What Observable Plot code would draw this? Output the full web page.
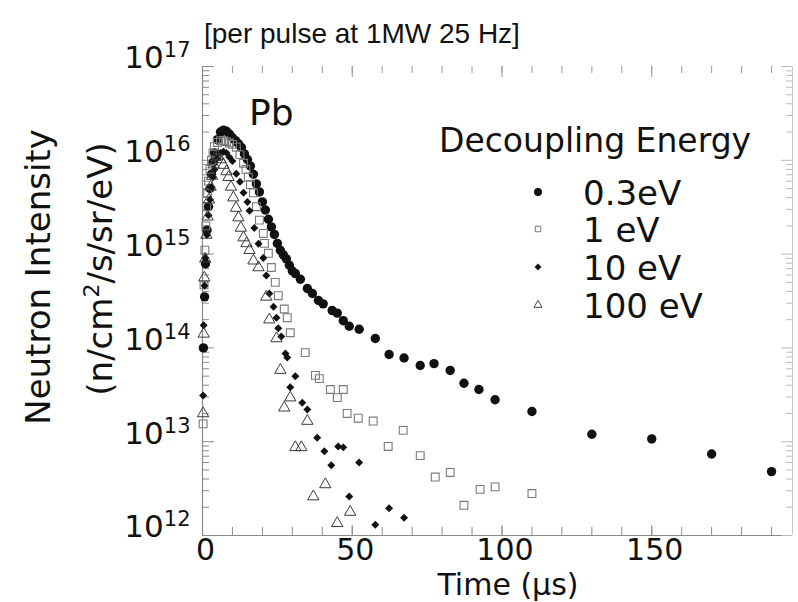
<!DOCTYPE html>
<html><head><meta charset="utf-8">
<script src="https://cdn.jsdelivr.net/npm/d3@7"></script>
<script src="https://cdn.jsdelivr.net/npm/@observablehq/plot@0.6"></script>
<style>body{margin:0;background:#fff} svg{display:block}</style>
</head><body><div id="chart"></div>
<script>
// ---- data (time in µs, intensity in n/cm²/s/sr/eV) ----
const seriesNames = ["0.3eV", "1 eV", "10 eV", "100 eV"];

const t03 = [0.3,0.7,1,1.5,2,2.5,3,3.5,4,5,6,7,8,9,10,11,12,13,14,15,16,17,18,19,20,21,22,23,24,25,26,27,28,29,30,31,32.7,35,36.7,38.7,40.3,43.3,45,47,49,52.3,57.7,62.3,67.3,72.7,77.3,82.7,87.3,92.3,97.7,110,130,150,170,190];
const v03 = [1.0e14,3.5e14,7.9e14,1.8e15,3.2e15,5.0e15,7.1e15,9.5e15,1.2e16,1.66e16,2.0e16,2.1e16,2.04e16,1.9e16,1.74e16,1.62e16,1.5e16,1.37e16,1.17e16,1.02e16,8.7e15,7.1e15,5.6e15,4.6e15,3.6e15,2.95e15,2.35e15,1.95e15,1.62e15,1.3e15,1.1e15,9.8e14,8.9e14,7.6e14,6.6e14,6.2e14,5.4e14,4.3e14,3.8e14,3.2e14,2.95e14,2.5e14,2.35e14,1.95e14,1.7e14,1.58e14,1.26e14,8.5e13,7.8e13,6.5e13,6.8e13,5.75e13,4.2e13,3.6e13,2.8e13,2.1e13,1.2e13,1.07e13,7.4e12,4.8e12];

const t1 = [0.2,0.5,0.8,1.1,1.4,1.7,2,2.5,3,3.5,4,5,6,7,8,9,10,11.3,12.5,13.7,14.5,15.3,16,17,18,19,20.3,20.7,22,23,24.3,25.3,27.3,28.3,29.3,34.3,37.7,39,42.7,45,47,48.3,52,57,62,67,72.7,77.7,82.7,87.3,92.7,97.7,110];
const v1 = [1.55e13,4.7e14,1.1e15,2.0e15,3.2e15,4.5e15,6.0e15,8.0e15,1.0e16,1.2e16,1.4e16,1.55e16,1.62e16,1.62e16,1.58e16,1.53e16,1.48e16,1.38e16,1.15e16,9.3e15,8.0e15,6.6e15,5.5e15,4.5e15,3.2e15,2.3e15,1.66e15,1.3e15,1.02e15,7.2e14,5.0e14,3.6e14,2.6e14,2.1e14,1.45e14,8.9e13,5.1e13,4.7e13,3.6e13,2.95e13,3.6e13,2.0e13,1.78e13,1.66e13,8.9e12,1.32e13,7.1e12,4.2e12,4.7e12,2.1e12,3.1e12,3.3e12,2.8e12];

const t10 = [0.2,0.4,0.7,1,1.5,2,2.5,3,3.5,4,5,6,7,8,9,10,11.3,12.5,13.7,15,15.7,17.3,18.7,20.3,21.3,22.3,23.7,24.7,25.3,26.3,27.7,28.3,29.3,31,33.3,35,38.3,40.7,43,45.3,47,49,52.3,57.7,62.3,67.3];
const v10 = [3.1e13,1.74e14,4.6e14,9.1e14,1.6e15,2.6e15,3.8e15,5.2e15,6.6e15,8.0e15,1.05e16,1.2e16,1.23e16,1.2e16,1.08e16,9.8e15,7.2e15,5.9e15,4.5e15,3.6e15,2.9e15,1.9e15,1.29e15,9.1e14,5.9e14,3.8e14,2.75e14,2.1e14,1.62e14,1.32e14,8.7e13,7.9e13,3.8e13,5.0e13,2.6e13,2.2e13,1.1e13,7.9e12,5.6e12,8.9e12,8.7e12,2.6e12,6.0e12,1.3e12,1.95e12,1.55e12];

const t100 = [0.2,0.4,0.6,0.9,1.3,1.7,2.2,2.7,3.2,3.7,4.3,5,6,7,8,8.7,9.5,10.3,11.2,12,12.8,13.7,14.7,15.7,17,18.7,21.3,22.3,24.7,26,27.3,29.3,31,33,35,37,41,45,49.3];
const v100 = [2.0e13,1.41e14,5.6e14,8.9e14,1.6e15,2.5e15,3.8e15,5.2e15,6.8e15,9.0e15,1.08e16,1.1e16,1.02e16,8.9e15,7.6e15,6.6e15,5.2e15,4.0e15,3.1e15,2.45e15,1.9e15,1.5e15,1.3e15,1.1e15,8.5e14,7.2e14,3.5e14,2.0e14,1.26e14,5.8e13,2.3e13,2.95e13,8.7e12,8.7e12,1.66e13,2.6e12,3.5e12,1.35e12,1.78e12];

// axis ticks / labels
const xLabelTicks = [0, 50, 100, 150];
const xMinorTicks = [10,20,30,40,50,60,70,80,90,100,110,120,130,140,150,160,170,180,190];
const xMajorTicks = [50,100,150];
const yDecades = [1e12, 1e13, 1e14, 1e15, 1e16, 1e17];
const yMinorMult = [2,3,4,5,6,7,8,9];
const titleText = "[per pulse at 1MW 25 Hz]";
const targetText = "Pb";
const legendTitle = "Decoupling Energy";
const xLabel = "Time (µs)";
const yLabel1 = "Neutron Intensity";

// ---- build tables ----
const tables = [[t03,v03],[t1,v1],[t10,v10],[t100,v100]].map(([t,v],k) =>
  t.map((ti,i) => ({series: seriesNames[k], t: ti, v: v[i]})));
const yMinorTicks = yDecades.slice(0,-1).flatMap(d => yMinorMult.map(m => m*d));

const W = 798, H = 602, mL = 202, mR = 6, mT = 66, mB = 67;
const fw = W - mL - mR, fh = H - mT - mB;
const axisGray = "#8a8a8a";
const FONT = "DejaVu Sans";

const plot = Plot.plot({
  width: W, height: H,
  marginLeft: mL, marginRight: mR, marginTop: mT, marginBottom: mB,
  style: {fontFamily: FONT, background: "#fff", color: "#111", overflow: "visible"},
  x: {domain: [0, 197], axis: null},
  y: {type: "log", domain: [1e12, 1e17], axis: null},
  marks: [
    // frame lines
    Plot.ruleX([0], {stroke: axisGray, strokeWidth: 1.2}),
    Plot.ruleY([1e12], {stroke: axisGray, strokeWidth: 1.2}),
    Plot.ruleX([197], {stroke: "#c8c8c8"}),
    // left ticks (inside)
    Plot.tickY(yMinorTicks, {y: d => d, stroke: axisGray, insetRight: fw - 7}),
    Plot.tickY(yDecades, {y: d => d, stroke: axisGray, insetRight: fw - 12}),
    // right ticks
    Plot.tickY(yMinorTicks, {y: d => d, stroke: "#bbb", insetLeft: fw - 6}),
    Plot.tickY(yDecades, {y: d => d, stroke: "#bbb", insetLeft: fw - 11}),
    // bottom ticks
    Plot.tickX(xMinorTicks, {x: d => d, stroke: axisGray, insetTop: fh - 8}),
    Plot.tickX(xMajorTicks, {x: d => d, stroke: axisGray, insetTop: fh - 10}),
    // top ticks
    Plot.tickX(xMinorTicks, {x: d => d, stroke: "#999", insetBottom: fh - 7}),
    Plot.tickX(xMajorTicks, {x: d => d, stroke: "#999", insetBottom: fh - 11}),
    // axis labels
    Plot.axisX({ticks: xLabelTicks, tickSize: 0, tickPadding: 3, fontSize: 30, dx: 3, label: null, tickFormat: d => String(d)}),
    Plot.axisY({ticks: yDecades, tickSize: 0, tickPadding: 12, fontSize: 31, dy: -8, label: null,
      tickFormat: d => "10^" + Math.round(Math.log10(d))}),
    // data
    Plot.dot(tables[0], {x: "t", y: "v", symbol: "circle", fill: "#111", stroke: "none", r: 4.7}),
    Plot.dot(tables[1], {x: "t", y: "v", symbol: "square", fill: "none", stroke: "#7a7a7a", strokeWidth: 1.1, r: 4.4}),
    Plot.dot(tables[2], {x: "t", y: "v", symbol: "diamond2", fill: "#111", stroke: "none", r: 3.6}),
    Plot.dot(tables[3], {x: "t", y: "v", symbol: "triangle", fill: "none", stroke: "#3a3a3a", strokeWidth: 1, r: 4.2})
  ]
});

document.getElementById("chart").appendChild(plot);
const svg = d3.select(plot);

// superscript exponents on y tick labels
svg.selectAll('g[aria-label="y-axis tick label"] text').each(function() {
  const s = this.textContent;
  if (!s.includes("^")) return;
  const [base, exp] = s.split("^");
  const el = d3.select(this);
  el.text(null);
  el.append("tspan").text(base);
  el.append("tspan").attr("dy", "-11").attr("font-size", 21).text(exp);
});

const addText = (x, y, txt, size, anchor = "start", family = FONT) =>
  svg.append("text").attr("x", x).attr("y", y).attr("font-family", family)
    .attr("font-size", size).attr("fill", "#111").attr("text-anchor", anchor).text(txt);

addText(204, 43, titleText, 28, "start", "Liberation Sans");
addText(249, 125, targetText, 36);
addText(439, 152, legendTitle, 33);
addText(508, 594.5, xLabel, 30, "middle");

// legend rows
const legendRows = [
  {label: seriesNames[0], y: 205, sym: d3.symbolCircle, size: Math.PI * 16, fill: "#111", stroke: "none"},
  {label: seriesNames[1], y: 242, sym: d3.symbolSquare, size: 30, fill: "none", stroke: "#7a7a7a"},
  {label: seriesNames[2], y: 280, sym: d3.symbolDiamond2, size: 30, fill: "#111", stroke: "none"},
  {label: seriesNames[3], y: 318, sym: d3.symbolTriangle, size: 28, fill: "none", stroke: "#444"}
];
legendRows.forEach(r => {
  svg.append("path").attr("d", d3.symbol(r.sym, r.size)())
    .attr("transform", `translate(538,${r.y - 13})`)
    .attr("fill", r.fill).attr("stroke", r.stroke);
  addText(583, r.y, r.label, 34);
});

// y-axis title (two lines, rotated)
svg.append("text").attr("transform", "translate(50,277) rotate(-90)")
  .attr("font-family", FONT).attr("font-size", 34).attr("fill", "#111")
  .attr("text-anchor", "middle").text(yLabel1);
const l2 = svg.append("text").attr("transform", "translate(112,269) rotate(-90)")
  .attr("font-family", FONT).attr("font-size", 34).attr("fill", "#111")
  .attr("text-anchor", "middle");
l2.append("tspan").text("(n/cm");
l2.append("tspan").attr("dy", -13).attr("font-size", 22).text("2");
l2.append("tspan").attr("dy", 13).text("/s/sr/eV)");
</script>
</body></html>
